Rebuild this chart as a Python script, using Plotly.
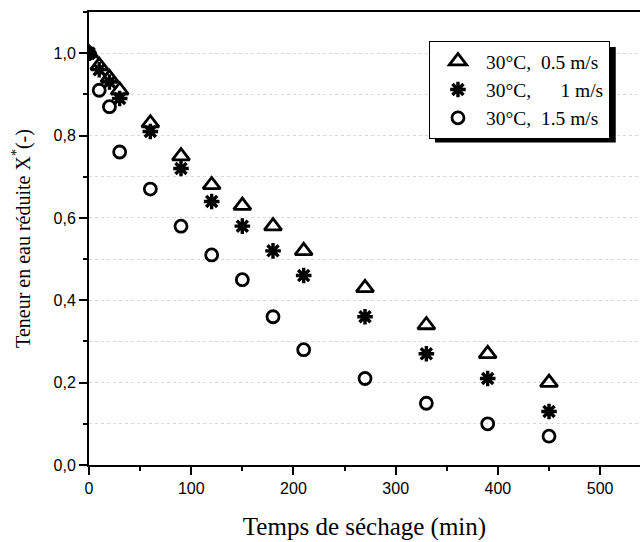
import plotly.graph_objects as go

time_min = [0, 10, 20, 30, 60, 90, 120, 150, 180, 210, 270, 330, 390, 450]
x_05 = [1.00, 0.97, 0.94, 0.91, 0.83, 0.75, 0.68, 0.63, 0.58, 0.52, 0.43, 0.34, 0.27, 0.20]
x_10 = [1.00, 0.96, 0.93, 0.89, 0.81, 0.72, 0.64, 0.58, 0.52, 0.46, 0.36, 0.27, 0.21, 0.13]
x_15 = [1.00, 0.91, 0.87, 0.76, 0.67, 0.58, 0.51, 0.45, 0.36, 0.28, 0.21, 0.15, 0.10, 0.07]
names = ["30°C,\u00a0\u00a00.5 m/s", "30°C,\u00a0\u00a0\u00a0\u00a0\u00a0\u00a01 m/s", "30°C,\u00a0\u00a01.5 m/s"]

fig = go.Figure()
series = [(x_05, "triangle-up-open", 15, 2.8), (x_10, "asterisk-open", 13, 3.4), (x_15, "circle-open", 12, 2.8)]
for i, (vals, sym, sz, lw) in enumerate(series):
    fig.add_trace(go.Scatter(
        x=time_min, y=vals, mode="markers", name=names[i],
        marker=dict(symbol=sym, size=sz, color="black", line=dict(color="black", width=lw)),
    ))

# legend shadow
fig.add_shape(type="rect", xref="paper", yref="paper", x0=0.628, x1=0.956, y0=0.712, y1=0.923,
              fillcolor="black", line=dict(width=0), layer="above")

tickfont = dict(family="Liberation Sans, Arial", size=16, color="black")
serif = "Liberation Serif, Times New Roman"
fig.update_layout(
    width=640, height=542,
    margin=dict(l=89, r=0, t=12, b=77),
    paper_bgcolor="white", plot_bgcolor="white",
    separators=", ",
    showlegend=True,
    legend=dict(x=0.617, y=0.936, xanchor="left", yanchor="top",
                bgcolor="white", bordercolor="black", borderwidth=1,
                font=dict(family=serif, size=19.5, color="black"),
                itemwidth=46),
    xaxis=dict(range=[0, 539], tickvals=[0, 100, 200, 300, 400, 500],
               showline=True, linecolor="black", linewidth=2, mirror=True,
               ticks="outside", ticklen=8, tickwidth=2, tickcolor="black",
               showgrid=False, zeroline=False, tickfont=tickfont,
               minor=dict(dtick=50, tick0=0, ticks="outside", ticklen=4, tickwidth=2, tickcolor="black", showgrid=False),
               title=dict(text="Temps de séchage (min)", standoff=21,
                          font=dict(family=serif, size=25, color="black"))),
    yaxis=dict(range=[0, 1.1], tickvals=[0, 0.2, 0.4, 0.6, 0.8, 1.0], tickformat=".1f",
               showline=True, linecolor="black", linewidth=2, mirror=False,
               ticks="outside", ticklen=8, tickwidth=2, tickcolor="black",
               showgrid=False, zeroline=False, tickfont=tickfont,
               minor=dict(dtick=0.1, tick0=0, ticks="outside", ticklen=4, tickwidth=2, tickcolor="black",
                          showgrid=True, gridcolor="#d9d9d9", griddash="dot", gridwidth=1),
               title=dict(text="Teneur en eau réduite X<sup>*</sup>(-)", standoff=18,
                          font=dict(family=serif, size=20, color="black"))),
)

fig.write_html("out.html", config={"displayModeBar": False},
               post_script="document.body.style.margin='0';")
